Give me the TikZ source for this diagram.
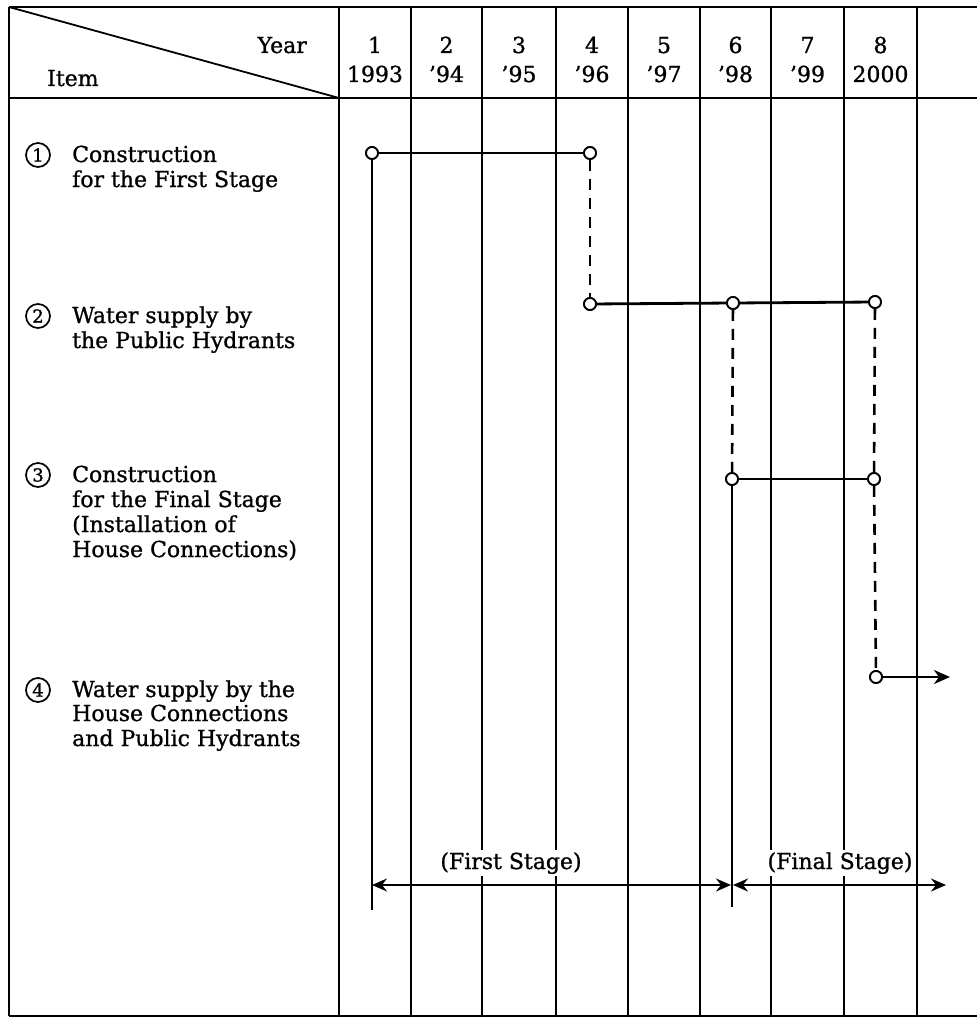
\documentclass[tikz,border=0pt]{standalone}
\usepackage{fontspec}
\setmainfont{DejaVu Serif}[FakeBold=1]
\usetikzlibrary{arrows.meta}
\begin{document}
\begin{tikzpicture}[x=1pt,y=-1pt,
  gridline/.style={line width=2.5pt},
  bar/.style={line width=2.8pt},
  dashline/.style={line width=2.6pt, dash pattern=on 11pt off 8pt},
  opendot/.style={circle,draw,fill=white,line width=1.8pt,minimum size=12pt,inner sep=0pt},
  txt/.style={font=\fontsize{22}{25}\selectfont, inner sep=0pt},
  numc/.style={circle,draw,line width=1.7pt,minimum size=24pt,inner sep=0pt,font=\fontsize{18}{18}\selectfont},
  stagelbl/.style={txt,fill=white,inner xsep=1pt,inner ysep=2pt,anchor=base},
  arrone/.style={line width=2.4pt,-{Stealth[length=16pt,width=14pt,inset=5pt]}},
  arrtwo/.style={line width=2pt,{Stealth[length=15pt,width=13pt,inset=5pt]}-{Stealth[length=15pt,width=13pt,inset=5pt]}}
]
\useasboundingbox (0,0) rectangle (977,1019);
% grid
\draw[gridline] (9,7) -- (977,7);
\draw[gridline] (9,98) -- (977,98);
\draw[gridline] (9,1016) -- (977,1016);
\draw[gridline] (9,7) -- (9,1016);
\foreach \x in {339,411,482,556,628,700,771,844,917}
  \draw[gridline] (\x,7) -- (\x,1016);
\draw[line width=1.8pt] (9,7) -- (339,98);
% header
\node[txt,anchor=base east] (year) at (307,53) {Year};
\node[txt,anchor=base west] (item) at (47,86) {Item};
\foreach \c/\n/\y [count=\i] in {375/1/1993,446.5/2/'94,519/3/'95,592/4/'96,664/5/'97,735.5/6/'98,807.5/7/'99,880.5/8/2000}{
  \node[txt,anchor=base] (n\i) at (\c,53) {\n};
  \node[txt,anchor=base] (y\i) at (\c,82) {\y};
}
% items
\node[numc] (c1) at (38,155) {1};
\node[txt,anchor=base west] (i1a) at (72,162) {Construction};
\node[txt,anchor=base west] (i1b) at (72,187) {for the First Stage};
\node[numc] (c2) at (38,316) {2};
\node[txt,anchor=base west] (i2a) at (72,323) {Water supply by};
\node[txt,anchor=base west] (i2b) at (72,348) {the Public Hydrants};
\node[numc] (c3) at (38,475) {3};
\node[txt,anchor=base west] (i3a) at (72,482) {Construction};
\node[txt,anchor=base west] (i3b) at (72,507) {for the Final Stage};
\node[txt,anchor=base west] (i3c) at (72,532) {(Installation of};
\node[txt,anchor=base west] (i3d) at (72,557) {House Connections)};
\node[numc] (c4) at (38,690) {4};
\node[txt,anchor=base west] (i4a) at (72,697) {Water supply by the};
\node[txt,anchor=base west] (i4b) at (72,721) {House Connections};
\node[txt,anchor=base west] (i4c) at (72,746) {and Public Hydrants};
% schedule points
\node[opendot] (s1) at (372,153) {};
\node[opendot] (e1) at (590,153) {};
\node[opendot] (s2) at (590,304) {};
\node[opendot] (m2) at (733,303) {};
\node[opendot] (e2) at (875,302) {};
\node[opendot] (s3) at (732,479) {};
\node[opendot] (e3) at (874,479) {};
\node[opendot] (s4) at (876,677) {};
\coordinate (s4end) at (950,677);
\coordinate (b1) at (372,910);
\coordinate (b3) at (732,907);
\coordinate (fa) at (372,885);
\coordinate (fb) at (731,885);
\coordinate (ga) at (733,885);
\coordinate (gb) at (946,885);
% schedule lines
\draw[bar] (s1) -- (e1);
\draw[bar] (s1) -- (b1);
\draw[dashline] (e1) -- (s2);
\draw[bar] (s2) -- (m2);
\draw[bar] (m2) -- (e2);
\draw[dashline] (m2) -- (s3);
\draw[dashline] (e2) -- (e3);
\draw[bar] (s3) -- (e3);
\draw[bar] (s3) -- (b3);
\draw[dashline] (e3) -- (s4);
\draw[arrone] (s4) -- (s4end);
% stage arrows
\draw[arrtwo] (fa) -- (fb);
\draw[arrtwo] (ga) -- (gb);
\node[stagelbl] (lf) at (511,869) {(First Stage)};
\node[stagelbl] (lg) at (840,869) {(Final Stage)};
% redraw dots on top
\foreach \d in {s1,e1,s2,m2,e2,s3,e3,s4}
  \node[opendot] at (\d) {};
\end{tikzpicture}
\end{document}
